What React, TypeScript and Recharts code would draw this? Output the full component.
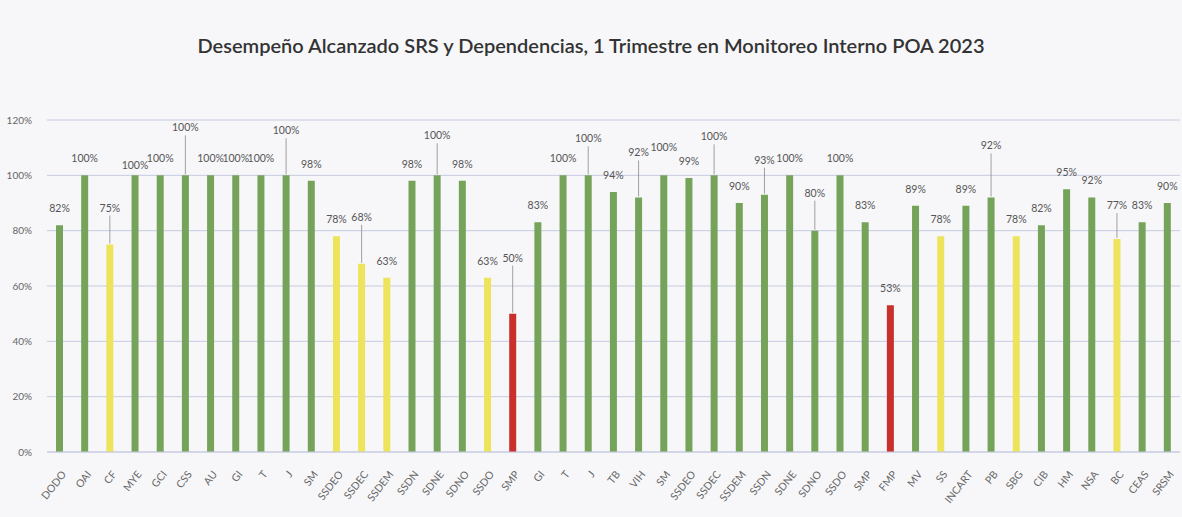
import { BarChart, Bar, XAxis, YAxis, CartesianGrid, Cell, LabelList } from "recharts";

const categories = [
  "DODO", "OAI", "CF", "MYE", "GCI", "CSS", "AU", "GI", "T", "J", "SM",
  "SSDEO", "SSDEC", "SSDEM", "SSDN", "SDNE", "SDNO", "SSDO", "SMP",
  "GI", "T", "J", "TB", "VIH", "SM", "SSDEO", "SSDEC", "SSDEM", "SSDN",
  "SDNE", "SDNO", "SSDO", "SMP", "FMP", "MV", "SS", "INCART", "PB", "SBG",
  "CIB", "HM", "NSA", "BC", "CEAS", "SRSM",
];

const desempeno = [
  82, 100, 75, 100, 100, 100, 100, 100, 100, 100, 98,
  78, 68, 63, 98, 100, 98, 63, 50,
  83, 100, 100, 94, 92, 100, 99, 100, 90, 93,
  100, 80, 100, 83, 53, 89, 78, 89, 92, 78,
  82, 95, 92, 77, 83, 90,
];

const yTicks = [0, 20, 40, 60, 80, 100, 120];

// extra lift for labels that Excel pulled up with a leader line (by bar index)
const labelLift: Record<number, number> = {
  2: 20, 3: -7, 5: 31, 9: 28, 12: 30, 15: 23, 18: 39, 21: 20, 23: 28,
  24: 11, 26: 22, 28: 18, 30: 21, 37: 35, 42: 17,
};

const data = categories.map((name, i) => ({ idx: i, name, value: desempeno[i] }));

const colorFor = (v: number) => (v >= 80 ? "#76a35a" : v >= 60 ? "#ede45c" : "#c9302c");

const FONT = "Lato, 'Open Sans', sans-serif";

const ValueLabel = (props: any) => {
  const { x, y, width, value, index } = props;
  const cx = x + width / 2;
  const lift = labelLift[index] || 0;
  const ty = y - 13 - lift;
  return (
    <g>
      {lift > 12 && (
        <line x1={cx} y1={ty + 4} x2={cx} y2={y - 1} stroke="#8a8a8a" strokeWidth={0.8} />
      )}
      <text x={cx} y={ty} textAnchor="middle" fontSize={10.5} fill="#555" fontFamily={FONT}>
        {value}%
      </text>
    </g>
  );
};

const XTick = (props: any) => {
  const { x, y, payload } = props;
  return (
    <g transform={`translate(${x + 4},${y + 12})`}>
      <text textAnchor="end" transform="rotate(-52)" fontSize={10.5} fill="#666" fontFamily={FONT} dy={4}>
        {categories[payload.value]}
      </text>
    </g>
  );
};

export default function App() {
  return (
    <div
      style={{
        position: "absolute",
        left: 0,
        top: 0,
        width: 1182,
        height: 517,
        background: "#f7f7f9",
        fontFamily: FONT,
      }}
    >
      <div
        style={{
          position: "absolute",
          top: 33,
          left: 0,
          width: 1182,
          textAlign: "center",
          fontSize: 20,
          fontWeight: 600,
          color: "#333",
        }}
      >
        Desempeño Alcanzado SRS y Dependencias, 1 Trimestre en Monitoreo Interno POA 2023
      </div>
      <BarChart
        width={1182}
        height={517}
        data={data}
        margin={{ top: 120, right: 2, left: 0, bottom: 0 }}
      >
        <CartesianGrid vertical={false} stroke="#c6cbe0" />
        <XAxis
          dataKey="idx"
          type="category"
          interval={0}
          tick={<XTick />}
          tickLine={false}
          axisLine={{ stroke: "#c6cbe0" }}
          height={65}
        />
        <YAxis
          domain={[0, 120]}
          ticks={yTicks}
          tickFormatter={(v) => `${v}%`}
          tickLine={false}
          axisLine={false}
          width={47}
          tickMargin={9}
          tick={{ fontSize: 10, fill: "#666", fontFamily: FONT }}
        />
        <Bar dataKey="value" barSize={7} isAnimationActive={false}>
          {data.map((d) => (
            <Cell key={d.idx} fill={colorFor(d.value)} />
          ))}
          <LabelList dataKey="value" content={<ValueLabel />} />
        </Bar>
      </BarChart>
    </div>
  );
}
